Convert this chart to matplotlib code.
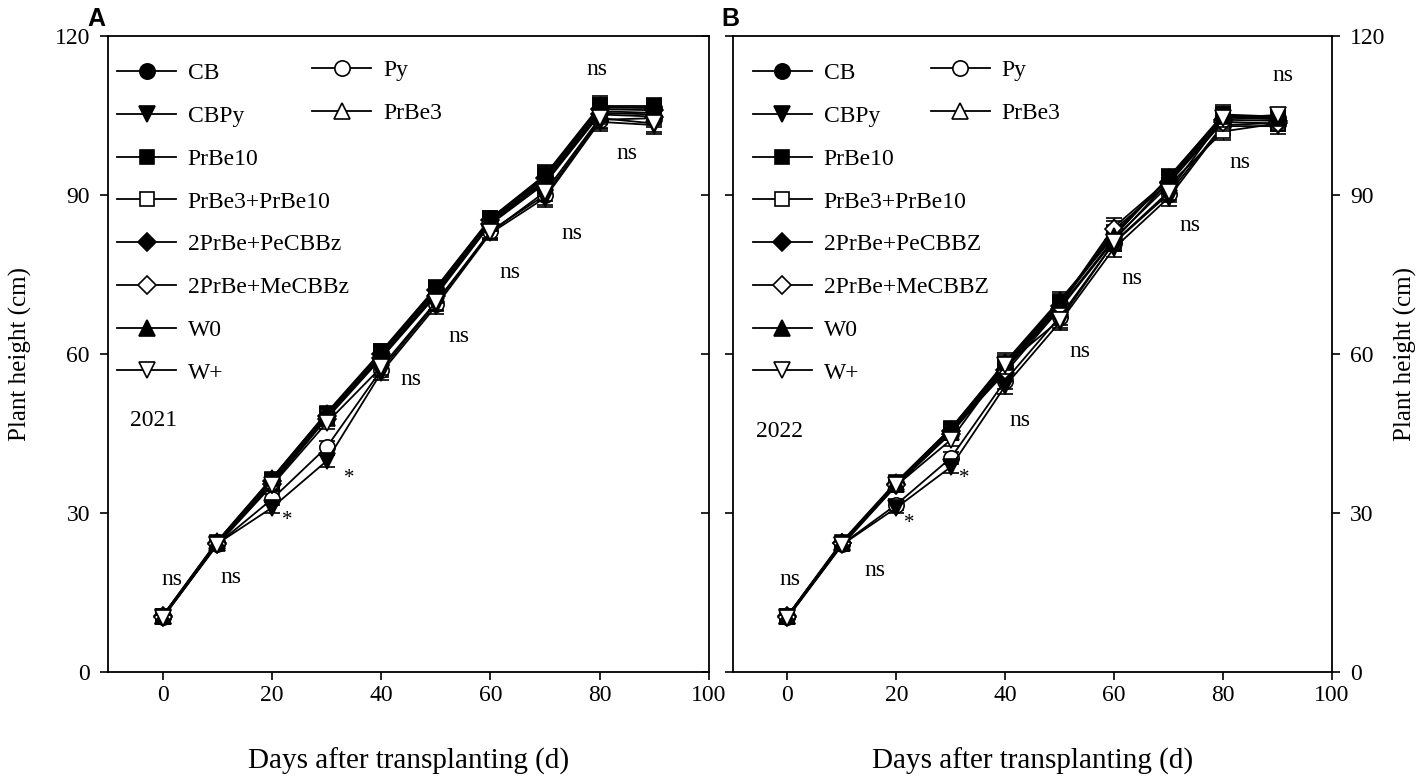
import matplotlib
matplotlib.use('Agg')
import matplotlib.pyplot as plt
from matplotlib.lines import Line2D

plt.rcParams['font.family'] = ['Liberation Serif', 'DejaVu Serif']

days = [0, 10, 20, 30, 40, 50, 60, 70, 80, 90]

treatments = ['CB', 'CBPy', 'PrBe10', 'PrBe3+PrBe10', '2PrBe+PeCBBz',
              '2PrBe+MeCBBz', 'W0', 'W+', 'Py', 'PrBe3']
labels_2022 = ['CB', 'CBPy', 'PrBe10', 'PrBe3+PrBe10', '2PrBe+PeCBBZ',
               '2PrBe+MeCBBZ', 'W0', 'W+', 'Py', 'PrBe3']

# 2021 plant height (cm)
h2021_CB = [10.5, 24.5, 36.3, 48.6, 60.2, 72.2, 85.5, 93.5, 106.5, 106.5]
h2021_CBPy = [10.3, 24.2, 31.0, 39.8, 56.5, 69.0, 82.8, 89.5, 103.8, 103.2]
h2021_PrBe10 = [10.6, 24.6, 36.5, 48.9, 60.5, 72.5, 85.6, 93.8, 106.8, 106.8]
h2021_PrBe3PrBe10 = [10.4, 24.3, 35.8, 48.2, 59.6, 71.6, 85.0, 92.8, 105.8, 105.5]
h2021_Pe = [10.5, 24.4, 36.0, 48.4, 60.0, 72.0, 85.2, 93.2, 106.2, 106.0]
h2021_Me = [10.3, 24.2, 35.4, 47.8, 59.2, 71.0, 84.5, 92.2, 105.2, 104.8]
h2021_W0 = [10.6, 24.7, 36.6, 48.8, 60.3, 72.3, 85.4, 93.6, 106.6, 106.4]
h2021_Wp = [10.2, 24.0, 35.2, 47.0, 57.5, 69.8, 83.0, 90.6, 104.5, 103.5]
h2021_Py = [10.4, 24.1, 32.6, 42.4, 57.0, 69.5, 83.2, 90.0, 104.2, 104.5]
h2021_PrBe3 = [10.5, 24.4, 35.6, 48.0, 59.4, 71.3, 84.8, 92.5, 105.5, 105.2]
se2021 = [0.6, 0.7, 1.0, 1.2, 1.4, 1.4, 1.3, 1.8, 1.8, 1.6]

# 2022 plant height (cm)
h2022_CB = [10.5, 24.4, 35.6, 45.7, 57.8, 69.5, 82.5, 93.0, 104.8, 104.5]
h2022_CBPy = [10.3, 24.0, 31.0, 38.7, 54.0, 66.0, 80.0, 89.5, 103.0, 103.0]
h2022_PrBe10 = [10.6, 24.5, 35.8, 46.0, 58.2, 69.8, 82.8, 93.2, 105.2, 104.8]
h2022_PrBe3PrBe10 = [10.4, 24.2, 35.2, 45.2, 57.2, 68.8, 81.8, 91.8, 102.0, 103.5]
h2022_Pe = [10.5, 24.3, 35.4, 45.5, 56.5, 68.5, 81.5, 92.5, 104.2, 104.0]
h2022_Me = [10.4, 24.3, 35.3, 45.0, 57.0, 69.0, 83.5, 92.2, 103.8, 103.5]
h2022_W0 = [10.6, 24.6, 35.9, 45.9, 58.5, 70.2, 82.2, 93.4, 105.0, 104.6]
h2022_Wp = [10.2, 23.9, 35.2, 43.8, 57.9, 66.4, 81.1, 90.6, 104.5, 105.1]
h2022_Py = [10.4, 24.1, 31.6, 40.4, 55.0, 67.0, 81.0, 90.2, 103.2, 103.6]
h2022_PrBe3 = [10.5, 24.4, 35.5, 45.3, 57.5, 69.3, 84.0, 92.8, 104.6, 104.3]
se2022 = [0.6, 0.7, 1.0, 1.2, 1.6, 1.5, 1.6, 1.5, 1.7, 1.4]

data2021 = [h2021_CB, h2021_CBPy, h2021_PrBe10, h2021_PrBe3PrBe10, h2021_Pe,
            h2021_Me, h2021_W0, h2021_Wp, h2021_Py, h2021_PrBe3]
data2022 = [h2022_CB, h2022_CBPy, h2022_PrBe10, h2022_PrBe3PrBe10, h2022_Pe,
            h2022_Me, h2022_W0, h2022_Wp, h2022_Py, h2022_PrBe3]

# significance labels and where they sit (data coords)
sig_2021 = ['ns', 'ns', '*', '*', 'ns', 'ns', 'ns', 'ns', 'ns', 'ns']
sig_2021_xy = [(1.7, 17.4), (12.5, 17.9), (22.8, 28.6), (34.1, 36.6), (45.5, 55.1),
               (54.3, 63.4), (63.5, 75.3), (74.9, 82.8), (79.4, 113.6), (85.0, 97.9)]
sig_2022 = ['ns', 'ns', '*', '*', 'ns', 'ns', 'ns', 'ns', 'ns', 'ns']
sig_2022_xy = [(0.4, 17.4), (16.0, 19.2), (22.4, 28.0), (32.5, 36.5), (42.6, 47.5),
               (53.7, 60.4), (63.2, 74.3), (73.9, 84.3), (83.1, 96.2), (91.0, 112.6)]

markers = ['o', 'v', 's', 's', 'D', 'D', '^', 'v', 'o', '^']
filled = [True, True, True, False, True, False, True, False, False, False]
msizes = [11, 11, 10, 10, 9, 9, 11, 11, 11, 11]
draw_order = [8, 9, 0, 1, 2, 3, 4, 5, 6, 7]

fig = plt.figure(figsize=(14.17, 7.78), dpi=100)
axA = fig.add_axes([0.0762, 0.1362, 0.4242, 0.8175])
axB = fig.add_axes([0.5173, 0.1362, 0.4227, 0.8175])

leg_anchor1 = {'2021': (0.015, 0.958), '2022': (0.033, 0.958)}
leg_anchor2 = {'2021': (0.34, 0.963), '2022': (0.33, 0.963)}


def draw_panel(ax, data, se, labels, sig, sig_xy, year, year_xy):
    for k, i in enumerate(draw_order):
        ax.errorbar(days, data[i], yerr=se, color='black', lw=1.3,
                    marker=markers[i], ms=msizes[i], mec='black', mew=1.2,
                    mfc='black' if filled[i] else 'white',
                    elinewidth=1.0, capsize=6, capthick=1.0, zorder=3 + k * 0.1)
    handles = []
    for i in range(len(labels)):
        handles.append(Line2D([], [], color='black', lw=1.3, marker=markers[i],
                              ms=msizes[i], mec='black', mew=1.2,
                              mfc='black' if filled[i] else 'white'))
    for s, (x, y) in zip(sig, sig_xy):
        ax.text(x, y, s, fontsize=15 if s == '*' else 17, ha='center', va='center')
    ax.text(year_xy[0], year_xy[1], year, fontsize=17, ha='center', va='center')

    ax.set_xlim(-10, 100)
    ax.set_ylim(0, 120)
    ax.set_xticks([0, 20, 40, 60, 80, 100])
    ax.set_yticks([0, 30, 60, 90, 120])
    for sp in ax.spines.values():
        sp.set_linewidth(1.3)
    ax.set_xlabel('Days after transplanting (d)', fontsize=21, labelpad=30)

    leg1 = ax.legend(handles[:8], labels[:8], loc='upper left', frameon=False,
                     fontsize=17, handlelength=2.5, handletextpad=0.5,
                     labelspacing=0.9, borderpad=0, borderaxespad=0,
                     bbox_to_anchor=leg_anchor1[year])
    ax.add_artist(leg1)
    ax.legend(handles[8:], labels[8:], loc='upper left', frameon=False,
              fontsize=17, handlelength=2.5, handletextpad=0.5,
              labelspacing=0.9, borderpad=0, borderaxespad=0,
              bbox_to_anchor=leg_anchor2[year])


draw_panel(axA, data2021, se2021, treatments, sig_2021, sig_2021_xy, '2021', (-1.6, 47.5))
draw_panel(axB, data2022, se2022, labels_2022, sig_2022, sig_2022_xy, '2022', (-1.5, 45.3))

axA.tick_params(axis='both', labelsize=17, length=6, width=1.2)
axA.tick_params(axis='x', direction='out', top=False)
axA.tick_params(axis='y', left=True, right=True, labelleft=True, labelright=False, pad=7)
axA.yaxis.set_tick_params(which='major', direction='out')
for t in axA.yaxis.get_major_ticks():
    t.tick2line.set_marker(matplotlib.lines.TICKLEFT)
axA.set_ylabel('Plant height (cm)', fontsize=18, labelpad=16)

axB.tick_params(axis='both', labelsize=17, length=6, width=1.2, direction='out')
axB.tick_params(axis='x', top=False)
axB.tick_params(axis='y', left=True, right=True, labelleft=False, labelright=True, pad=7)
axB.yaxis.set_label_position('right')
axB.set_ylabel('Plant height (cm)', fontsize=18, labelpad=6)

fig.text(0.062, 0.975, 'A', fontsize=18, fontweight='bold', family='Liberation Sans',
         ha='left', va='center')
fig.text(0.509, 0.975, 'B', fontsize=18, fontweight='bold', family='Liberation Sans',
         ha='left', va='center')

fig.savefig('out.png', dpi=100)
